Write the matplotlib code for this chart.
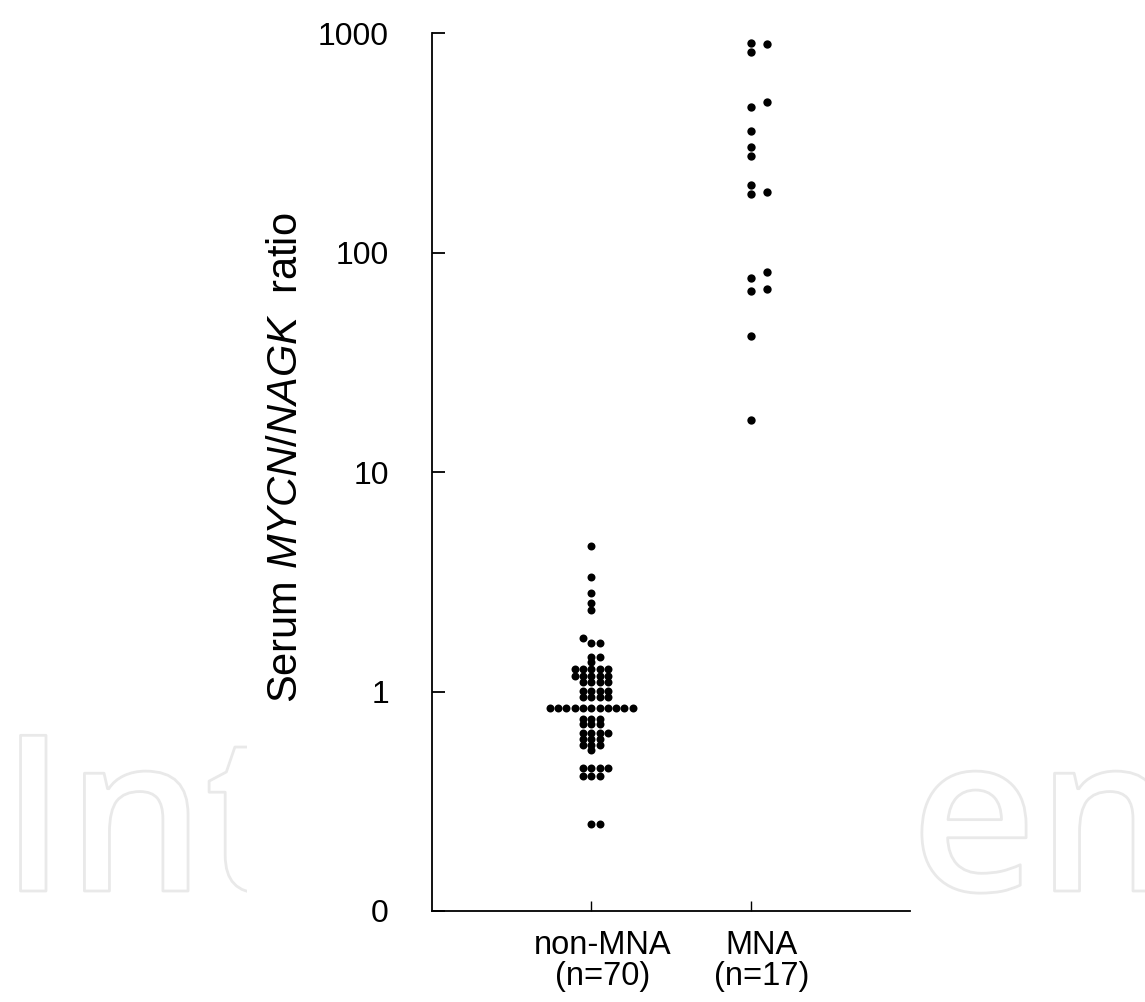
import numpy as np
import matplotlib
matplotlib.use('Agg')
import matplotlib.pyplot as plt
import matplotlib.patheffects as pe
import matplotlib.transforms as mtransforms
from matplotlib.patches import Rectangle

plt.rcParams['font.family'] = ['Liberation Sans', 'DejaVu Sans']
plt.rcParams['mathtext.fontset'] = 'custom'
plt.rcParams['mathtext.rm'] = 'Liberation Sans'
plt.rcParams['mathtext.it'] = 'Liberation Sans:italic'

# данные
groups = ['non-MNA\n(n=70)', 'MNA\n(n=17)']
non_mna = ([4.58, 3.31, 2.80, 2.52, 2.34, 1.76] + [1.67] * 2 + [1.44] * 2 + [1.36]
           + [1.27] * 5 + [1.18] * 5 + [1.10] * 4 + [1.01] * 4 + [0.94] * 4
           + [0.84] * 11 + [0.75] * 3 + [0.71] * 3 + [0.65] * 4 + [0.61] * 3
           + [0.57] * 3 + [0.54] + [0.45] * 4 + [0.41] * 3 + [0.25] * 2)
mna = [904, 892, 823, 487, 460, 358, 302, 275, 203, 189, 185,
       81.7, 76.4, 68.1, 66.7, 41.6, 17.2]
yticks = [0.1, 1, 10, 100, 1000]
yticklabels = ['0', '1', '10', '100', '1000']


def swarm(vals, step, tol, centered):
    # простая раскладка точек по горизонтали, чтобы не перекрывались
    order = np.argsort(vals)
    logv = np.log10(np.asarray(vals, dtype=float))
    slots = [0, 1, -1, 2, -2, 3, -3, 4, -4, 5, -5, 6, -6] if centered else list(range(10))
    placed = []
    xs = np.zeros(len(vals))
    for i in order:
        for s in slots:
            if all(not (ps == s and abs(py - logv[i]) < tol) for ps, py in placed):
                placed.append((s, logv[i]))
                xs[i] = s * step
                break
    return xs


fig = plt.figure(figsize=(11.45, 10.02), dpi=100)

# водяной знак
wm_style = dict(fontsize=157, family='Open Sans', fontweight='semibold', color='white',
                va='baseline', path_effects=[pe.Stroke(linewidth=2, foreground='#e9e9e9')],
                zorder=-2)
fig.text(0, 1 - 891 / 1002, 'Int', **wm_style)
fig.text(911 / 1145, 1 - 891 / 1002, 'en', **wm_style)
fig.patches.append(Rectangle((247 / 1145, 0), (908 - 247) / 1145, 1, transform=fig.transFigure,
                             facecolor='white', edgecolor='none', zorder=-1))

ax = fig.add_axes([432 / 1145, 1 - 911 / 1002, (910 - 432) / 1145, (911 - 33) / 1002])
ax.patch.set_alpha(0)

px_dec = 219.3
x1 = 1 + swarm(non_mna, 0.052, 5 / px_dec, True)
x2 = 2 + swarm(mna, 0.105, 8 / px_dec, False)
ax.scatter(x1, non_mna, s=33, color='black', linewidths=0, clip_on=False)
ax.scatter(x2, mna, s=36, color='black', linewidths=0, clip_on=False)

ax.set_yscale('log')
ax.set_ylim(0.1, 1000)
ax.set_xlim(0, 3)
ax.set_yticks(yticks)
ax.set_yticklabels(yticklabels)
ax.yaxis.set_minor_locator(matplotlib.ticker.NullLocator())
ax.set_xticks([1, 2])
ax.set_xticklabels(groups, linespacing=1.0)

for s in ['top', 'right']:
    ax.spines[s].set_visible(False)
for s in ['left', 'bottom']:
    ax.spines[s].set_linewidth(1.3)

ax.tick_params(axis='y', direction='in', length=9, width=1.3, labelsize=23, pad=31)
ax.tick_params(axis='x', direction='in', length=7, width=1.0, labelsize=23.5, pad=14)
offset = mtransforms.ScaledTranslation(8 / 72, 0, fig.dpi_scale_trans)
for lbl in ax.get_xticklabels():
    lbl.set_transform(lbl.get_transform() + offset)

fig.text(286 / 1145, 1 - 458 / 1002, r'Serum $\mathit{MYCN/NAGK}$  ratio',
         rotation=90, ha='center', va='center', fontsize=30)

fig.savefig('out.png', dpi=100)
